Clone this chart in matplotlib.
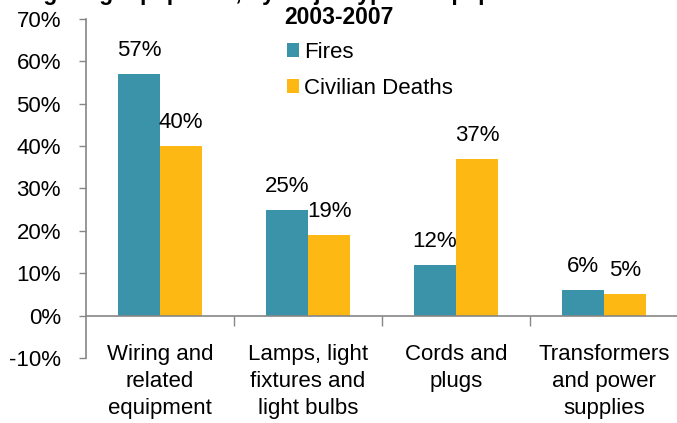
import matplotlib
matplotlib.use("Agg")
import matplotlib.pyplot as plt
import numpy as np

categories = ["Wiring and\nrelated\nequipment", "Lamps, light\nfixtures and\nlight bulbs",
              "Cords and\nplugs", "Transformers\nand power\nsupplies"]
fires = [57, 25, 12, 6]
deaths = [40, 19, 37, 5]
yticks = [-10, 0, 10, 20, 30, 40, 50, 60, 70]

teal = "#3B93A9"
gold = "#FDB813"
axis_gray = "#868686"
FS = 16

plt.rcParams['font.family'] = ['Liberation Sans', 'DejaVu Sans']

fig = plt.figure(figsize=(6.77, 4.23), dpi=100)
ax = fig.add_axes([86/677, 1-358/423, (678-86)/677, (358-19)/423])

x = np.arange(len(categories))
w = 0.285
b1 = ax.bar(x - w/2, fires, w, color=teal, label="Fires")
b2 = ax.bar(x + w/2, deaths, w, color=gold, label="Civilian Deaths")

for rect, v in zip(b1, fires):
    ax.annotate(f"{v}%", (rect.get_x() + rect.get_width()/2, v), xytext=(0, 17),
                textcoords="offset points", ha="center", va="center", fontsize=FS)
for rect, v in zip(b2, deaths):
    ax.annotate(f"{v}%", (rect.get_x() + rect.get_width()/2, v), xytext=(0, 17),
                textcoords="offset points", ha="center", va="center", fontsize=FS)

ax.set_xlim(-0.5, len(categories) - 0.5)
ax.set_ylim(-10, 70)
ax.set_yticks(yticks)
ax.set_yticklabels([f"{t}%" for t in yticks], fontsize=FS)
ax.tick_params(axis='y', direction='out', length=5, width=1, color=axis_gray, pad=13)

ax.spines['top'].set_visible(False)
ax.spines['right'].set_visible(False)
ax.spines['left'].set_color(axis_gray)
ax.spines['bottom'].set_color(axis_gray)
ax.spines['bottom'].set_position(('data', 0))
ax.spines['left'].set_linewidth(1.2)
ax.spines['bottom'].set_linewidth(1.2)

ax.set_xticks(np.arange(len(categories)) + 0.5)
ax.set_xticklabels([])
ax.tick_params(axis='x', direction='out', length=7, width=1, color=axis_gray)

for i, c in enumerate(categories):
    ax.text(i, -6.6, c, ha="center", va="top", fontsize=FS, linespacing=1.4)

fig.text(0.5, 1 - 18/423, "2003-2007", ha="center", va="center", fontsize=16.5, fontweight="bold")
fig.text(0.5, 1 + 7/423, "Lighting equipment, by major type of equipment involved:",
         ha="center", va="center", fontsize=16.5, fontweight="bold")

ax.legend(loc="upper left", bbox_to_anchor=(287/677, 1 - 42/423), bbox_transform=fig.transFigure,
          frameon=False, fontsize=FS, handlelength=0.55, handleheight=0.55, handletextpad=0.2,
          labelspacing=0.67, borderpad=0, borderaxespad=0)

fig.savefig("out.png", dpi=100)
